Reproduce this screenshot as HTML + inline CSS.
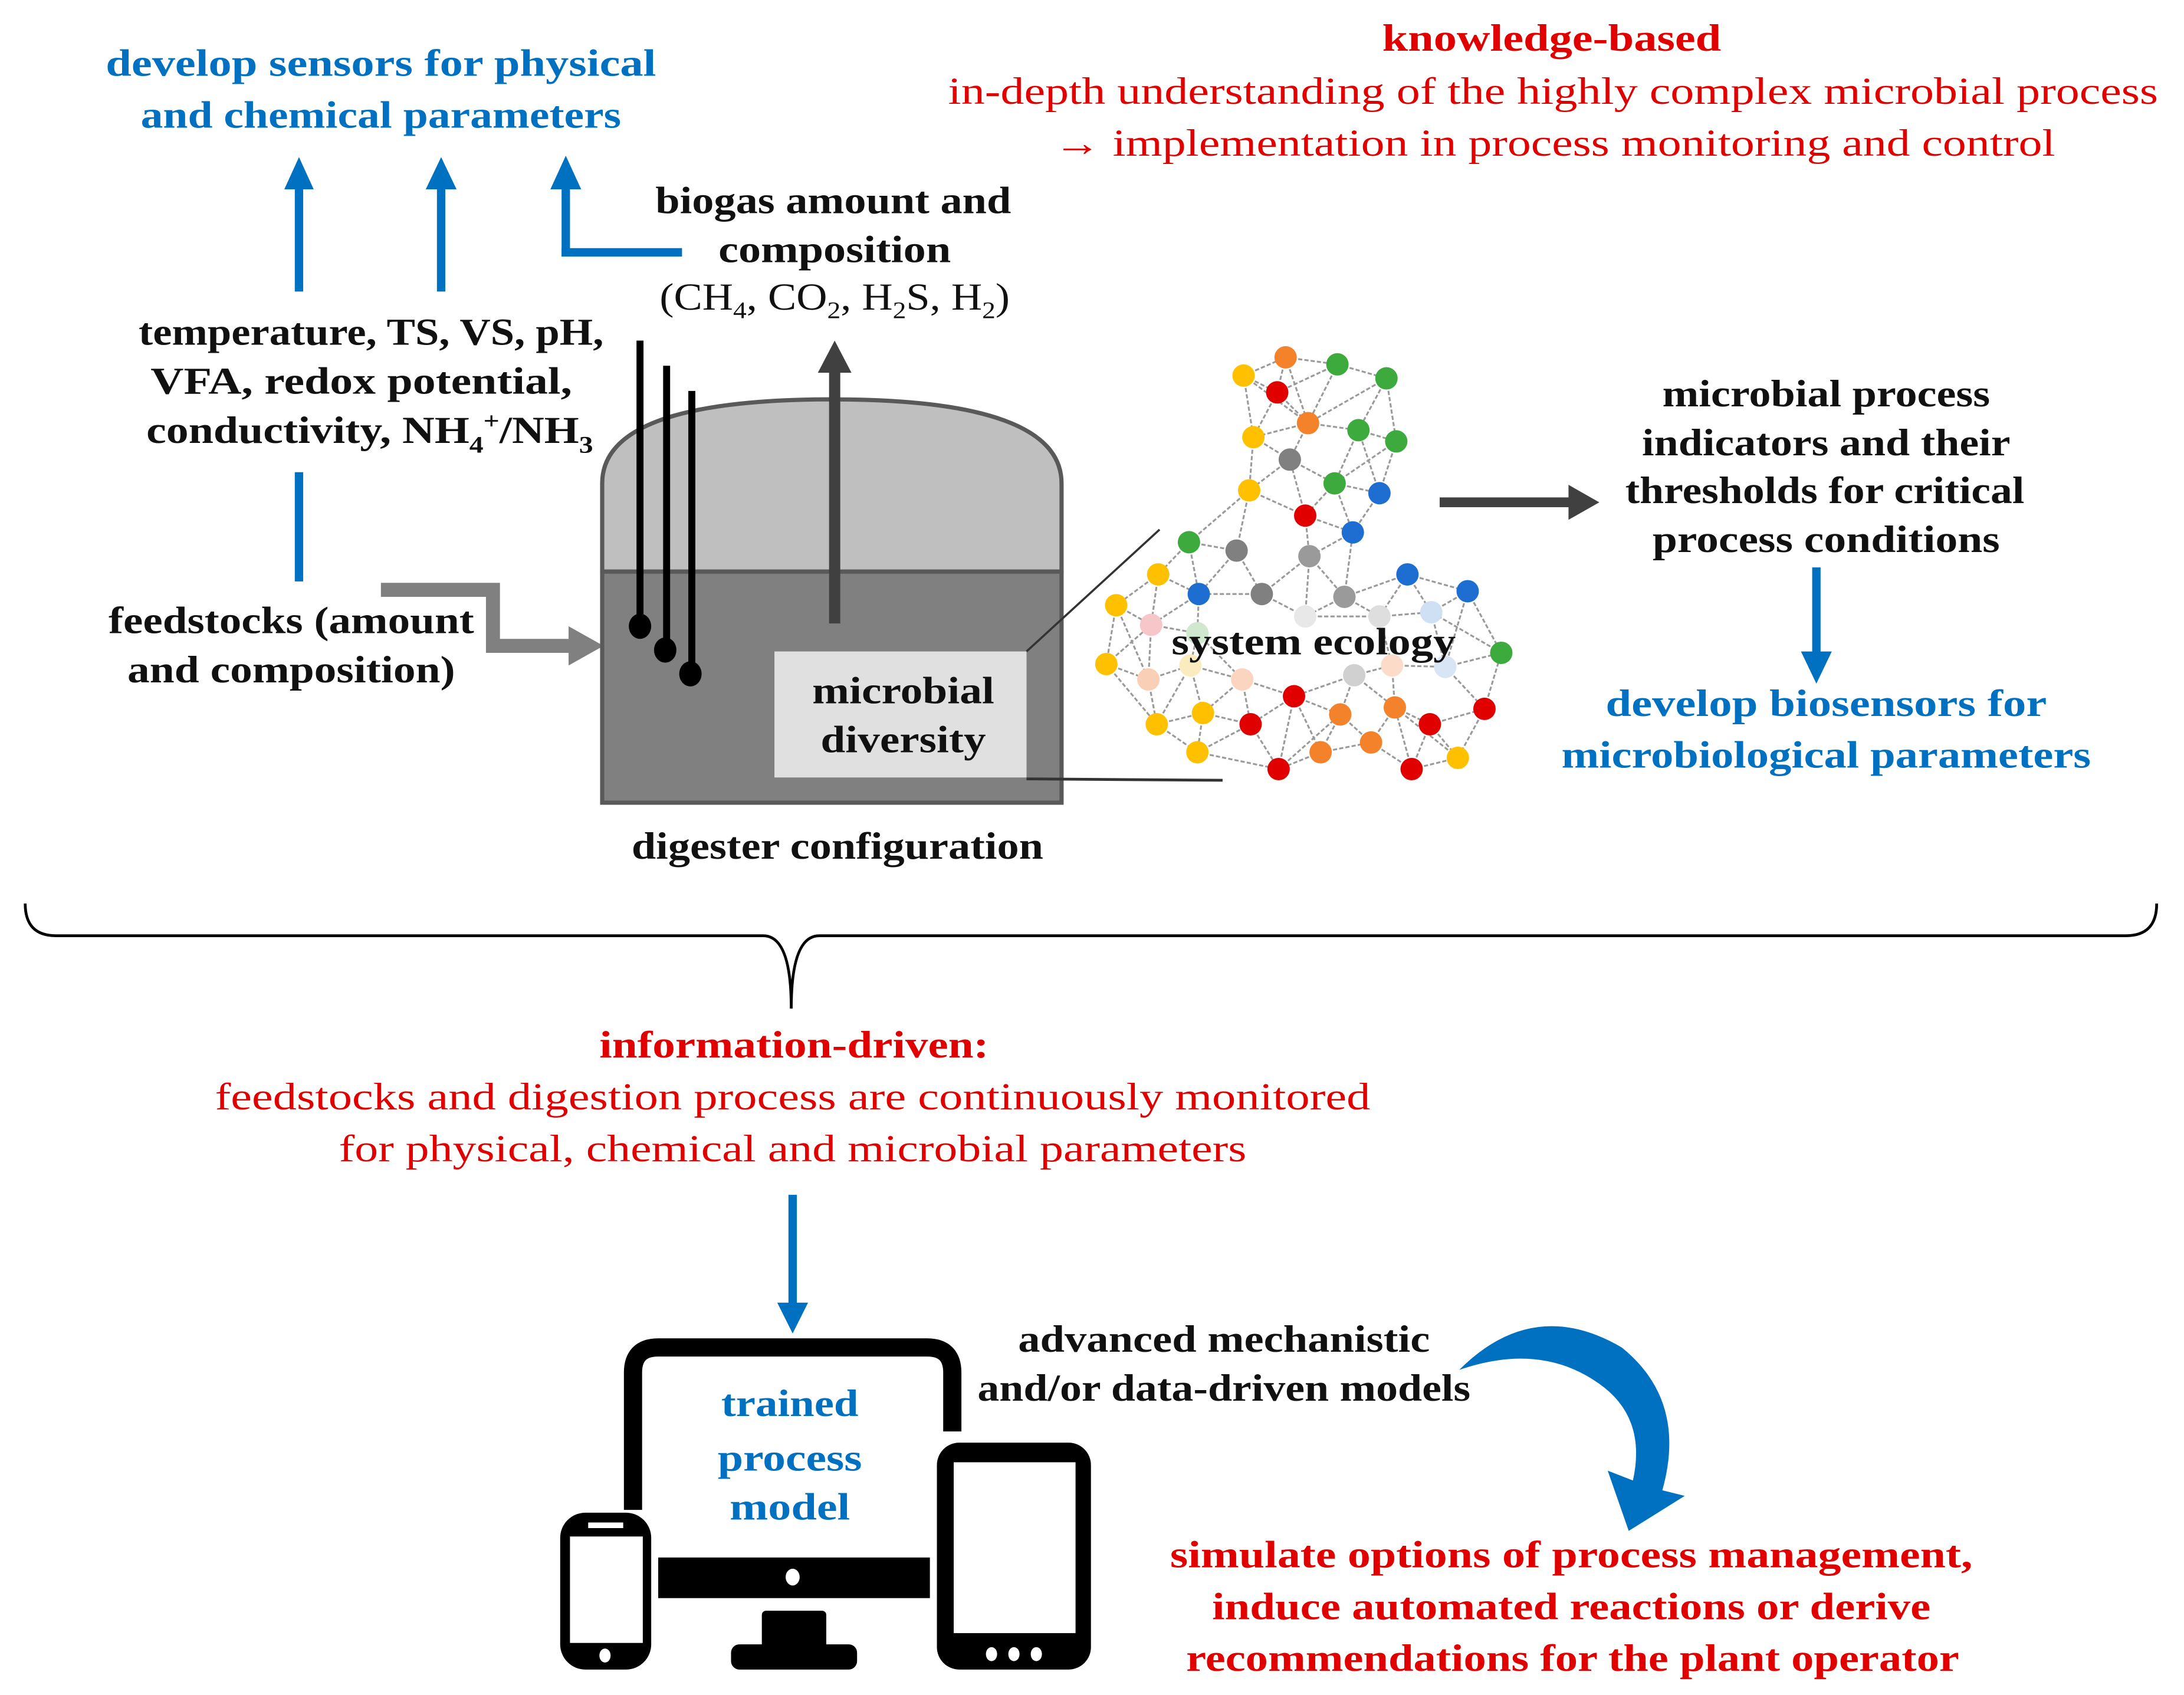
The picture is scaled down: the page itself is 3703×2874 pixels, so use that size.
<!DOCTYPE html>
<html><head><meta charset="utf-8"><style>html,body{margin:0;padding:0;background:#fff}svg{display:block}text{font-family:"Liberation Serif",serif}</style></head>
<body>
<svg id="s" xmlns="http://www.w3.org/2000/svg" width="3703" height="2874" viewBox="0 0 1559.5 1210">
<rect width="1559.5" height="1210" fill="#fff"/>
<g id="net"></g>
<g fill="#0070C0" stroke="none">
<rect x="210.5" y="130" width="6" height="78"/><polygon points="203,135 224,135 213.5,112"/>
<rect x="312" y="130" width="6" height="78"/><polygon points="304,135 326,135 315,112"/>
<rect x="401" y="130" width="6" height="53"/><rect x="401" y="177" width="86" height="6"/><polygon points="393,135 415,135 404,111"/>
<rect x="210.5" y="337" width="6" height="78"/>
<rect x="1294" y="405" width="6" height="62"/><polygon points="1286,465 1308,465 1297,488"/>
<rect x="563" y="853" width="6" height="80"/><polygon points="555,930 577,930 566,952"/>
<path d="M1042,978 Q1095,925 1158,962 Q1205,1000 1187,1064 L1203,1068 L1163,1093 L1148,1050 L1166,1057 Q1176,1012 1142,988 Q1100,958 1042,978 Z"/>
</g>
<polyline points="272,421 352,421 352,461 410,461" fill="none" stroke="#808080" stroke-width="10"/>
<polygon points="406,447 406,475 431,461" fill="#808080"/>
<path d="M430,408 L430,345 Q430,285 594,285 Q758,285 758,345 L758,408 Z" fill="#bfbfbf" stroke="#595959" stroke-width="3"/>
<rect x="430" y="408" width="328" height="165" fill="#808080" stroke="#595959" stroke-width="3"/>
<rect x="553" y="465" width="180" height="90" fill="#e0e0e0"/>
<line x1="733" y1="465" x2="828" y2="378" stroke="#333" stroke-width="1.5"/>
<line x1="733" y1="556" x2="873" y2="557" stroke="#333" stroke-width="2"/>
<g stroke="#000" stroke-width="5"><line x1="457" y1="243" x2="457" y2="445"/><line x1="476" y1="261" x2="476" y2="463"/><line x1="494" y1="279" x2="494" y2="480"/></g>
<g fill="#000"><ellipse cx="457" cy="447" rx="8" ry="9"/><ellipse cx="475" cy="464" rx="8" ry="9"/><ellipse cx="493" cy="481" rx="8" ry="9"/></g>
<rect x="592" y="262" width="8" height="183" fill="#404040"/><polygon points="584,266 608,266 596,243" fill="#404040"/>
<rect x="1028" y="355" width="95" height="7" fill="#404040"/><polygon points="1120,346 1120,371 1142,358.5" fill="#404040"/>
<path d="M18,645 Q18,668 40,668 L545,668 Q565,668 565,720 Q565,668 585,668 L1518,668 Q1540,668 1540,645" fill="none" stroke="#000" stroke-width="2"/>
<path d="M452,1078 L452,980 Q452,962 470,962 L662,962 Q680,962 680,980 L680,1022" fill="none" stroke="#000" stroke-width="13"/>
<rect x="470" y="1112" width="194" height="29" fill="#000"/><ellipse cx="566" cy="1126" rx="5" ry="6" fill="#fff"/>
<rect x="544" y="1150" width="46" height="30" rx="3" fill="#000"/><rect x="522" y="1174" width="90" height="18" rx="6" fill="#000"/>
<rect x="400" y="1080" width="65" height="112" rx="18" fill="#000"/><rect x="407" y="1097" width="52" height="76" fill="#fff"/>
<rect x="420" y="1087" width="25" height="4" fill="#fff"/><ellipse cx="432" cy="1182" rx="4" ry="5" fill="#fff"/>
<rect x="669" y="1030" width="110" height="162" rx="16" fill="#000"/><rect x="681" y="1044" width="87" height="122" fill="#fff"/>
<g fill="#fff"><ellipse cx="708" cy="1181" rx="4" ry="5"/><ellipse cx="724" cy="1181" rx="4" ry="5"/><ellipse cx="740" cy="1181" rx="4" ry="5"/></g>
<g font-size="27" font-weight="bold" text-anchor="middle" fill="#0070C0">
<text x="272" y="54" textLength="393" lengthAdjust="spacingAndGlyphs">develop  sensors for physical</text>
<text x="272" y="91" textLength="343" lengthAdjust="spacingAndGlyphs">and chemical parameters</text>
<text x="1304" y="511" textLength="315" lengthAdjust="spacingAndGlyphs">develop  biosensors for</text>
<text x="1304" y="548" textLength="378" lengthAdjust="spacingAndGlyphs">microbiological  parameters</text>
<text x="564" y="1011" textLength="98" lengthAdjust="spacingAndGlyphs">trained</text>
<text x="564" y="1050" textLength="103" lengthAdjust="spacingAndGlyphs">process</text>
<text x="564" y="1085" textLength="86" lengthAdjust="spacingAndGlyphs">model</text>
</g>
<g font-size="27" text-anchor="middle" fill="#E00000">
<text x="1108" y="36" font-weight="bold" textLength="242" lengthAdjust="spacingAndGlyphs">knowledge-based</text>
<text x="1109" y="74" textLength="864" lengthAdjust="spacingAndGlyphs">in-depth understanding of the highly  complex microbial process</text>
<text x="1110" y="111" textLength="715" lengthAdjust="spacingAndGlyphs">→ implementation in process monitoring and control</text>
<text x="567" y="755" font-weight="bold" textLength="278" lengthAdjust="spacingAndGlyphs">information-driven:</text>
<text x="566" y="792" textLength="825" lengthAdjust="spacingAndGlyphs">feedstocks and digestion process are continuously monitored</text>
<text x="566" y="829" textLength="648" lengthAdjust="spacingAndGlyphs">for physical, chemical and microbial parameters</text>
<g font-weight="bold">
<text x="1122" y="1119" textLength="573" lengthAdjust="spacingAndGlyphs">simulate options of process management,</text>
<text x="1122" y="1156" textLength="513" lengthAdjust="spacingAndGlyphs">induce automated reactions or derive</text>
<text x="1123" y="1193" textLength="552" lengthAdjust="spacingAndGlyphs">recommendations for the plant operator</text>
</g></g>
<g font-size="27" font-weight="bold" text-anchor="middle" fill="#111">
<text x="595" y="152" textLength="254" lengthAdjust="spacingAndGlyphs">biogas amount and</text>
<text x="596" y="187" textLength="166" lengthAdjust="spacingAndGlyphs">composition</text>
<text x="265" y="246" textLength="332" lengthAdjust="spacingAndGlyphs">temperature, TS, VS, pH,</text>
<text x="258" y="281" textLength="301" lengthAdjust="spacingAndGlyphs">VFA, redox potential,</text>
<text x="264" y="316" textLength="319" lengthAdjust="spacingAndGlyphs">conductivity, NH<tspan font-size="17" dy="7">4</tspan><tspan font-size="17" dy="-17">+</tspan><tspan dy="10">/NH</tspan><tspan font-size="17" dy="7">3</tspan></text>
<text x="208" y="452" textLength="261" lengthAdjust="spacingAndGlyphs">feedstocks (amount</text>
<text x="208" y="487" textLength="234" lengthAdjust="spacingAndGlyphs">and composition)</text>
<text x="645" y="502" textLength="130" lengthAdjust="spacingAndGlyphs">microbial</text>
<text x="645" y="537" textLength="118" lengthAdjust="spacingAndGlyphs">diversity</text>
<text x="938" y="467" textLength="203" lengthAdjust="spacingAndGlyphs">system ecology</text>
<text x="598" y="613" textLength="294" lengthAdjust="spacingAndGlyphs">digester configuration</text>
<text x="1304" y="290" textLength="234" lengthAdjust="spacingAndGlyphs">microbial process</text>
<text x="1304" y="325" textLength="263" lengthAdjust="spacingAndGlyphs">indicators and their</text>
<text x="1303" y="359" textLength="285" lengthAdjust="spacingAndGlyphs">thresholds for critical</text>
<text x="1304" y="394" textLength="248" lengthAdjust="spacingAndGlyphs">process conditions</text>
<text x="874" y="965" textLength="294" lengthAdjust="spacingAndGlyphs">advanced mechanistic</text>
<text x="874" y="1000" textLength="352" lengthAdjust="spacingAndGlyphs">and/or data-driven models</text>
</g>
<text x="596" y="221" font-size="27" text-anchor="middle" fill="#111" textLength="250" lengthAdjust="spacingAndGlyphs">(CH<tspan font-size="17" dy="6">4</tspan><tspan dy="-6">, CO</tspan><tspan font-size="17" dy="6">2</tspan><tspan dy="-6">, H</tspan><tspan font-size="17" dy="6">2</tspan><tspan dy="-6">S, H</tspan><tspan font-size="17" dy="6">2</tspan><tspan dy="-6">)</tspan></text>
</svg>
<script>
var Y="#FFC000",O="#F4822A",G="#3DAA3D",R="#E00000",B="#1E6ED2",A="#808080",A2="#9a9a9a";
var n=[[888,268,Y],[918,255,O],[955,260,G],[990,270,G],[912,280,R],[934,302,O],[895,312,Y],[970,307,G],[997,315,G],[921,328,A],[953,345,G],[892,350,Y],[985,352,B],[932,368,R],[966,380,B],[849,387,G],[883,393,A],[935,397,A2],[827,410,Y],[856,424,B],[901,424,A],[960,426,A2],[1005,410,B],[1048,422,B],[797,432,Y],[822,446,"#f7c6c8"],[855,452,"#cfe8cf"],[932,440,"#e8e8e8"],[985,440,"#dedede"],[1022,437,"#cfe0f5"],[790,474,Y],[820,485,"#f9cfb5"],[850,475,"#fbecc0"],[887,485,"#fbd5c0"],[924,497,R],[967,482,"#d0d0d0"],[994,475,"#fcdcc8"],[1032,476,"#d8e5f5"],[826,517,Y],[859,509,Y],[893,517,R],[957,510,O],[996,505,O],[1021,517,R],[1060,506,R],[1072,466,G],[943,537,O],[979,530,O],[913,549,R],[1008,549,R],[1041,541,Y],[855,537,Y]];
var g=document.getElementById("net"),h="",seen={};
for(var i=0;i<n.length;i++){var d=[];for(var j=0;j<n.length;j++)if(j!=i){var dx=n[i][0]-n[j][0],dy=n[i][1]-n[j][1];d.push([dx*dx+dy*dy,j]);}
d.sort(function(a,b){return a[0]-b[0]});for(var k=0;k<4;k++){var j=d[k][1],key=Math.min(i,j)+"_"+Math.max(i,j);if(seen[key]||d[k][0]>4200)continue;seen[key]=1;
h+='<line x1="'+n[i][0]+'" y1="'+n[i][1]+'" x2="'+n[j][0]+'" y2="'+n[j][1]+'" stroke="#9a9a9a" stroke-width="1.3" stroke-dasharray="3,1.5"/>';}}
for(var i=0;i<n.length;i++)h+='<circle cx="'+n[i][0]+'" cy="'+n[i][1]+'" r="8" fill="'+n[i][2]+'"/>';
g.innerHTML=h;
</script>
</body></html>
